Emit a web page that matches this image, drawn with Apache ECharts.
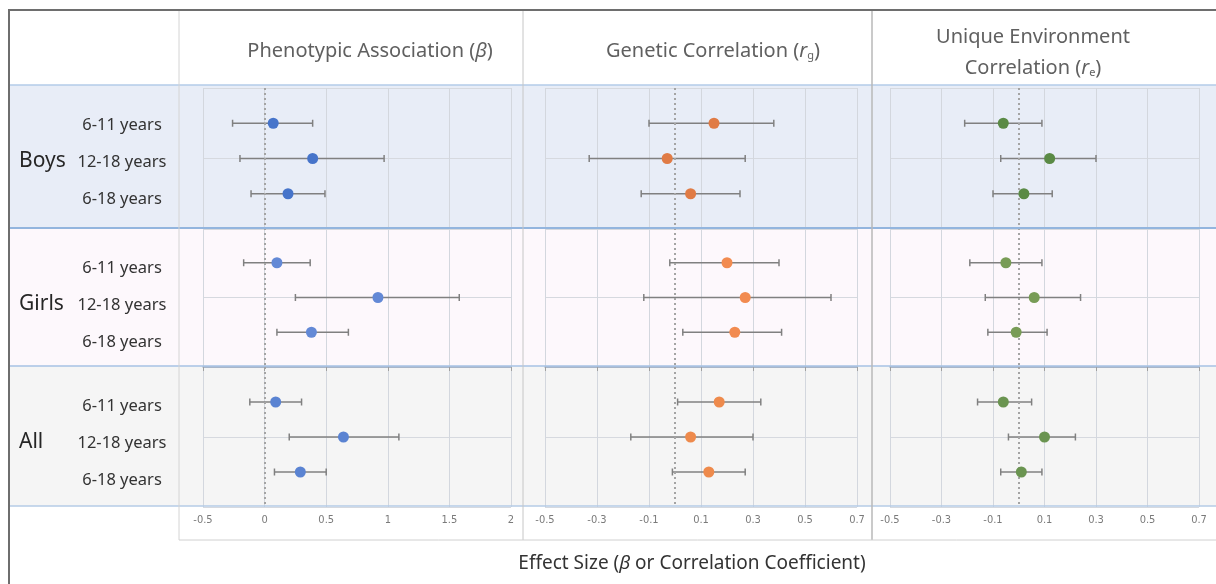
<!DOCTYPE html>
<html><head><meta charset="utf-8">
<script src="https://cdn.jsdelivr.net/npm/echarts@6/dist/echarts.min.js"></script>
<style>html,body{margin:0;padding:0;background:#fff}#c{width:1216px;height:584px}</style>
</head><body><div id="c"></div>
<script>
// ---------------- data ----------------
const groups = ['Boys', 'Girls', 'All'];
const ageBands = ['6-11 years', '12-18 years', '6-18 years'];
const betaTickLabels = ['-0.5', '0', '0.5', '1', '1.5', '2'];
const corrTickLabels = ['-0.5', '-0.3', '-0.1', '0.1', '0.3', '0.5', '0.7'];

// rows: Boys, Girls, All ; columns: 6-11, 12-18, 6-18
const betaEst  = [[0.07, 0.39, 0.19], [0.10, 0.92, 0.38], [0.09, 0.64, 0.29]];
const betaLow  = [[-0.26, -0.20, -0.11], [-0.17, 0.25, 0.10], [-0.12, 0.20, 0.08]];
const betaHigh = [[0.39, 0.97, 0.49], [0.37, 1.58, 0.68], [0.30, 1.09, 0.50]];

const rgEst  = [[0.15, -0.03, 0.06], [0.20, 0.27, 0.23], [0.17, 0.06, 0.13]];
const rgLow  = [[-0.10, -0.33, -0.13], [-0.02, -0.12, 0.03], [0.01, -0.17, -0.01]];
const rgHigh = [[0.38, 0.27, 0.25], [0.40, 0.60, 0.41], [0.33, 0.30, 0.27]];

const reEst  = [[-0.06, 0.12, 0.02], [-0.05, 0.06, -0.01], [-0.06, 0.10, 0.01]];
const reLow  = [[-0.21, -0.07, -0.10], [-0.19, -0.13, -0.12], [-0.16, -0.04, -0.07]];
const reHigh = [[0.09, 0.30, 0.13], [0.09, 0.24, 0.11], [0.05, 0.22, 0.09]];

// ---------------- layout / style ----------------
const panels = [
  { est: betaEst, low: betaLow, high: betaHigh, ticks: betaTickLabels, colors: ['#4674CA', '#6389D6', '#5A83D2'] },
  { est: rgEst, low: rgLow, high: rgHigh, ticks: corrTickLabels, colors: ['#E07B45', '#F28B50', '#EE8A4C'] },
  { est: reEst, low: reLow, high: reHigh, ticks: corrTickLabels, colors: ['#5A8A45', '#789C56', '#6A9450'] }
];
const panelBox = [[203, 308], [545, 312], [890, 309]];
const gridTop = [88, 228, 367];
const gridH = [141, 139, 140];
const bandY = [85, 228, 366, 506];
const bandFill = ['#E8EDF7', '#FDF8FC', '#F5F5F5'];
const FONT = "'Noto Sans', 'Open Sans', sans-serif";

const chart = echarts.init(document.getElementById('c'), null, { renderer: 'canvas' });

const grid = [], xAxis = [], yAxis = [], series = [];
function renderErr(params, api) {
  const y = api.value(0);
  const lo = api.coord([api.value(1), y]);
  const hi = api.coord([api.value(2), y]);
  const h = 3.5;
  const st = { stroke: '#808080', lineWidth: 1.5 };
  return {
    type: 'group', children: [
      { type: 'line', shape: { x1: lo[0], y1: lo[1], x2: hi[0], y2: hi[1] }, style: st },
      { type: 'line', shape: { x1: lo[0], y1: lo[1] - h, x2: lo[0], y2: lo[1] + h }, style: st },
      { type: 'line', shape: { x1: hi[0], y1: hi[1] - h, x2: hi[0], y2: hi[1] + h }, style: st }
    ]
  };
}

panels.forEach((p, pi) => {
  const tmin = parseFloat(p.ticks[0]);
  const tmax = parseFloat(p.ticks[p.ticks.length - 1]);
  const step = parseFloat(p.ticks[1]) - tmin;
  groups.forEach((g, gi) => {
    const idx = grid.length;
    const bottom = gi === groups.length - 1;
    grid.push({ left: panelBox[pi][0], width: panelBox[pi][1], top: gridTop[gi], height: gridH[gi] });
    xAxis.push({
      type: 'value', gridIndex: idx, min: tmin, max: tmax, interval: step,
      axisLine: { show: bottom, lineStyle: { color: '#9AAAC2', width: 1.5 } },
      axisTick: { show: bottom, length: 4, lineStyle: { color: '#A0A0A0' } },
      axisLabel: {
        show: bottom, margin: 8, color: '#7A7A7A', fontSize: 11,
        fontFamily: "'Liberation Sans Narrow', 'DejaVu Sans Condensed', sans-serif",
        formatter: v => {
          const k = Math.round((v - tmin) / step);
          return p.ticks[k] !== undefined ? p.ticks[k] : '';
        }
      },
      splitLine: { show: true, lineStyle: { color: '#D3D7DE', width: 1 } }
    });
    yAxis.push({
      type: 'value', gridIndex: idx, min: 0, max: 4, interval: 2, inverse: true,
      axisLine: { show: false }, axisTick: { show: false }, axisLabel: { show: false },
      splitLine: { show: true, lineStyle: { color: '#D6D9DF', width: 1 } }
    });
    series.push({
      type: 'custom', xAxisIndex: idx, yAxisIndex: idx, renderItem: renderErr,
      encode: { x: [1, 2], y: 0 }, z: 3, silent: true,
      data: ageBands.map((a, ai) => [ai + 1, p.low[gi][ai], p.high[gi][ai]]),
      markLine: {
        silent: true, symbol: 'none', label: { show: false }, animation: false,
        lineStyle: { color: '#A4A4A4', type: [2, 3], width: 2 },
        data: [{ xAxis: 0 }]
      }
    });
    series.push({
      type: 'scatter', xAxisIndex: idx, yAxisIndex: idx, symbolSize: 11, z: 5, silent: true,
      itemStyle: { color: p.colors[gi], opacity: 1 },
      data: ageBands.map((a, ai) => [p.est[gi][ai], ai + 1])
    });
  });
});

// ---------------- decorations ----------------
const graphic = [];
groups.forEach((g, gi) => {
  graphic.push({ type: 'rect', z: -10, silent: true,
    shape: { x: 9, y: bandY[gi], width: 1216 - 9, height: bandY[gi + 1] - bandY[gi] },
    style: { fill: bandFill[gi] } });
});
const lineColors = ['#B3CBE8', '#93B5DE', '#A6C2E4', '#B5CBE6'];
const lineW = [1.5, 2, 1.5, 1.5];
bandY.forEach((y, i) => {
  graphic.push({ type: 'line', z: 50, silent: true,
    shape: { x1: 9, y1: y, x2: 1216, y2: y }, style: { stroke: lineColors[i], lineWidth: lineW[i] } });
});
[[179, '#D4D4D4', 1], [523, '#C6C6C6', 1], [872, '#B8B8B8', 1.5]].forEach(d => {
  graphic.push({ type: 'line', z: 51, silent: true,
    shape: { x1: d[0], y1: 10, x2: d[0], y2: 540 }, style: { stroke: d[1], lineWidth: d[2] } });
});
graphic.push({ type: 'line', z: 51, silent: true, shape: { x1: 179, y1: 540, x2: 1216, y2: 540 }, style: { stroke: '#D0D0D0', lineWidth: 1 } });
graphic.push({ type: 'line', z: 60, silent: true, shape: { x1: 8, y1: 10, x2: 1216, y2: 10 }, style: { stroke: '#6E6E6E', lineWidth: 2 } });
graphic.push({ type: 'line', z: 60, silent: true, shape: { x1: 9, y1: 10, x2: 9, y2: 584 }, style: { stroke: '#6E6E6E', lineWidth: 2 } });

// header titles
const HC = '#606060';
const hdrRich = {
  n: { fontSize: 20, fontFamily: FONT, color: HC },
  i: { fontSize: 20, fontFamily: FONT, fontStyle: 'italic', color: HC },
  s: { fontSize: 11, fontFamily: FONT, color: HC, padding: [9, 0, 0, 0] }
};
function headText(x, y, text) {
  graphic.push({ type: 'text', z: 70, silent: true, x: x, y: y,
    style: { text: text, rich: hdrRich, align: 'center', verticalAlign: 'middle',
      textAlign: 'center', textVerticalAlign: 'middle', fill: HC, fontSize: 20, fontFamily: FONT } });
}
headText(370, 51, '{n|Phenotypic Association (}{i|β}{n|)}');
headText(713, 51, '{n|Genetic Correlation (}{i|r}{s|g}{n|)}');
headText(1033, 37, '{n|Unique Environment}');
headText(1033, 68, '{n|Correlation (}{i|r}{s|e}{n|)}');

// row labels
groups.forEach((g, gi) => {
  graphic.push({ type: 'text', z: 70, silent: true, x: 19, y: bandY[gi] + 76,
    style: { text: g, fontSize: 21, fontFamily: FONT, fill: '#262626',
      align: 'left', verticalAlign: 'middle', textAlign: 'left', textVerticalAlign: 'middle' } });
  ageBands.forEach((a, ai) => {
    graphic.push({ type: 'text', z: 70, silent: true, x: 122, y: bandY[gi] + 40 + 37 * ai,
      style: { text: a, fontSize: 16.5, fontFamily: FONT, fill: '#333333',
        align: 'center', verticalAlign: 'middle', textAlign: 'center', textVerticalAlign: 'middle' } });
  });
});

// x axis name
graphic.push({ type: 'text', z: 70, silent: true, x: 692, y: 564,
  style: { text: '{n|Effect Size (}{i|β}{n| or Correlation Coefficient)}',
    rich: { n: { fontSize: 19, fontFamily: FONT, color: '#333' }, i: { fontSize: 19, fontFamily: FONT, fontStyle: 'italic', color: '#333' } },
    align: 'center', verticalAlign: 'middle', textAlign: 'center', textVerticalAlign: 'middle', fill: '#333', fontSize: 19 } });

chart.setOption({
  animation: false,
  backgroundColor: '#ffffff',
  grid: grid, xAxis: xAxis, yAxis: yAxis, series: series, graphic: graphic
});
</script>
</body></html>
